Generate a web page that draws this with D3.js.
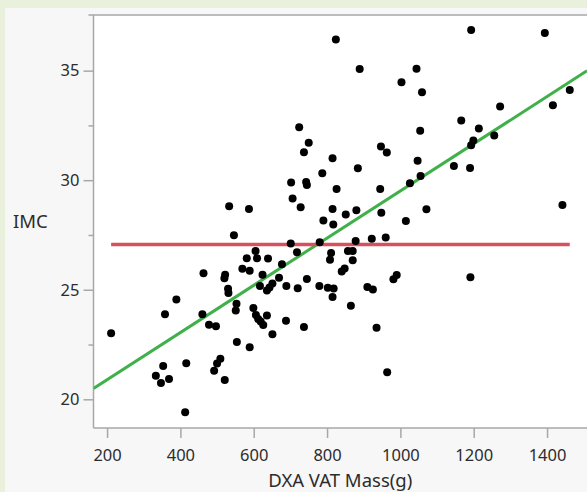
<!DOCTYPE html>
<html>
<head>
<meta charset="utf-8">
<script src="https://cdn.jsdelivr.net/npm/d3@7"></script>
<style>
  body { margin: 0; background: #e9f1dd; overflow: hidden; }
  svg { display: block; }
  .tick text { font-family: "Noto Sans", sans-serif; font-size: 16.5px; fill: #2c2c2c; }
  .label { font-family: "Noto Sans", sans-serif; font-size: 18.5px; fill: #2c2c2c; }
  .tick line { stroke: #a8a8a8; stroke-width: 1.5; }
  .frame { stroke: #a8a8a8; stroke-width: 1.5; fill: none; }
</style>
</head>
<body>
<svg id="chart"></svg>
<script>
// DXA VAT mass (g) and IMC
const vatMass = [
  824, 1193, 1394, 724, 750, 737, 815, 787, 702, 743, 745, 826, 706,
  889, 1044, 1003, 1059, 1462, 1416, 1272, 1166, 1214, 1054, 1256, 1199,
  1193, 947, 963, 884, 1047, 1146, 1190, 1055, 1026, 945,
  533, 587, 728, 815, 790, 817, 851, 880, 948, 1071, 1442, 1015,
  546, 701, 780, 878, 922, 960, 605, 718, 811, 808, 857, 870, 870,
  581, 609, 639, 677, 569, 589, 463, 522, 520, 624, 669, 745, 848,
  840, 990, 981, 1191, 651, 643, 636, 617, 689, 720, 779, 802, 818,
  815, 910, 925, 530, 531, 389, 865,
  553, 551, 599, 358, 460, 606, 612, 619, 626, 636, 688, 478, 497,
  737, 935, 651, 211, 554, 589, 416, 509, 500, 492, 353, 333, 347,
  369, 521, 964, 413
];
const imc = [
  36.42, 36.86, 36.72, 32.42, 31.71, 31.27, 31.00, 30.32, 29.90, 29.92, 29.78, 29.60, 29.17,
  35.08, 35.09, 34.47, 34.01, 34.12, 33.42, 33.36, 32.73, 32.36, 32.26, 32.04, 31.81,
  31.60, 31.54, 31.26, 30.54, 30.89, 30.65, 30.56, 30.19, 29.86, 29.60,
  28.81, 28.68, 28.76, 28.69, 28.16, 27.98, 28.44, 28.63, 28.51, 28.67, 28.87, 28.14,
  27.49, 27.11, 27.17, 27.22, 27.33, 27.38, 26.77, 26.71, 26.68, 26.37, 26.77, 26.77, 26.35,
  26.44, 26.44, 26.43, 26.16, 25.96, 25.87, 25.75, 25.69, 25.52, 25.68, 25.55, 25.49, 25.97,
  25.83, 25.67, 25.48, 25.57, 25.29, 25.10, 24.97, 25.17, 25.17, 25.07, 25.17, 25.09, 25.06,
  24.67, 25.12, 25.01, 25.04, 24.85, 24.55, 24.27,
  24.36, 24.05, 24.17, 23.88, 23.88, 23.85, 23.67, 23.55, 23.39, 23.82, 23.59, 23.40, 23.33,
  23.30, 23.27, 22.97, 23.01, 22.61, 22.38, 21.64, 21.85, 21.63, 21.30, 21.52, 21.08, 20.74,
  20.93, 20.88, 21.23, 19.41
];

const xTicks = [200, 400, 600, 800, 1000, 1200, 1400];
const yTicks = [20, 25, 30, 35];
const yMinorTicks = [22.5, 27.5, 32.5];
const meanImc = 27.07;           // horizontal reference line
const fitLine = [18.74, 0.01077]; // intercept, slope of the green fit

const width = 587;
const height = 492;
const plot = { left: 93.5, top: 15, right: 587, bottom: 428 };

const svg = d3.select("#chart").attr("width", width).attr("height", height);

// grey panel under the green page background
svg.append("rect")
  .attr("x", 5).attr("y", 8)
  .attr("width", width).attr("height", height)
  .attr("fill", "#f7f7f7");

const x = d3.scaleLinear().domain([163, 1509]).range([plot.left, plot.right]);
const y = d3.scaleLinear().domain([18.69, 37.54]).range([plot.bottom, plot.top]);

svg.append("clipPath").attr("id", "clip")
  .append("rect")
  .attr("x", plot.left).attr("y", plot.top)
  .attr("width", plot.right - plot.left + 20)
  .attr("height", plot.bottom - plot.top);

svg.append("rect")
  .attr("x", plot.left).attr("y", plot.top)
  .attr("width", plot.right - plot.left + 20)
  .attr("height", plot.bottom - plot.top)
  .attr("fill", "#fff");

// axes
const yAxis = svg.append("g")
  .attr("transform", `translate(${plot.left},0)`)
  .call(d3.axisLeft(y).tickValues(yTicks).tickSize(10).tickPadding(4));
yAxis.select(".domain").remove();

const yMinor = svg.append("g")
  .attr("transform", `translate(${plot.left},0)`)
  .call(d3.axisLeft(y).tickValues(yMinorTicks).tickSize(5).tickFormat(""));
yMinor.select(".domain").remove();

const xAxis = svg.append("g")
  .attr("transform", `translate(0,${plot.bottom})`)
  .call(d3.axisBottom(x).tickValues(xTicks).tickSize(10).tickPadding(11).tickFormat(d3.format("d")));
xAxis.select(".domain").remove();

// frame: left, top and bottom edges
svg.append("path")
  .attr("class", "frame")
  .attr("d", `M${plot.left - 5},${plot.top}H${width + 5}M${plot.left},${plot.top}V${plot.bottom}M${plot.left},${plot.bottom}H${width + 5}`);

const body = svg.append("g").attr("clip-path", "url(#clip)");

// fit line across the whole x range
const fitX = x.domain();
body.append("line")
  .attr("x1", x(fitX[0])).attr("y1", y(fitLine[0] + fitLine[1] * fitX[0]))
  .attr("x2", x(fitX[1])).attr("y2", y(fitLine[0] + fitLine[1] * fitX[1]))
  .attr("stroke", "#40b04a").attr("stroke-width", 3);

// mean line over the data range
const extent = d3.extent(vatMass);
body.append("line")
  .attr("x1", x(extent[0])).attr("x2", x(extent[1]))
  .attr("y1", y(meanImc)).attr("y2", y(meanImc))
  .attr("stroke", "#d8505f").attr("stroke-width", 3.5);

body.selectAll(".dot")
  .data(d3.range(vatMass.length))
  .enter()
  .append("circle")
  .attr("class", "dot")
  .attr("cx", (i) => x(vatMass[i]))
  .attr("cy", (i) => y(imc[i]))
  .attr("r", 4)
  .attr("fill", "#000");

// titles
svg.append("text")
  .attr("class", "label")
  .attr("x", 13).attr("y", (plot.top + plot.bottom) / 2)
  .attr("dy", "0.35em")
  .text("IMC");

svg.append("text")
  .attr("class", "label")
  .attr("x", (plot.left + plot.right) / 2).attr("y", 487)
  .attr("text-anchor", "middle")
  .text("DXA VAT Mass(g)");
</script>
</body>
</html>
